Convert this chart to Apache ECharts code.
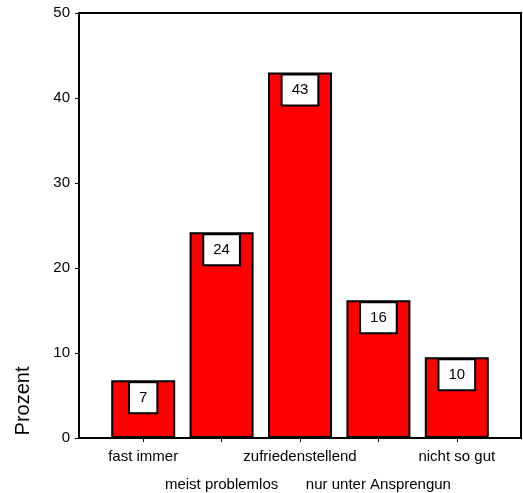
<!DOCTYPE html>
<html>
<head>
<meta charset="utf-8">
<script src="https://cdn.jsdelivr.net/npm/echarts@6/dist/echarts.min.js"></script>
<style>html,body{margin:0;padding:0;background:#fff}#c{width:523px;height:493px}</style>
</head>
<body>
<div id="c"></div>
<script>
var categories = ['fast immer', 'meist problemlos', 'zufriedenstellend', 'nur unter Ansprengun', 'nicht so gut'];
var values = [6.8, 24.2, 43.0, 16.2, 9.5];
var yTicks = [0, 10, 20, 30, 40, 50];
var yTitle = 'Prozent';

var chart = echarts.init(document.getElementById('c'));
var font = 'Liberation Sans, Arial, sans-serif';
chart.setOption({
  animation: false,
  backgroundColor: '#fff',
  grid: [
    {left: 79, top: 13, width: 442, height: 425, show: true, borderColor: '#000', borderWidth: 2, backgroundColor: 'transparent', containLabel: false, outerBoundsMode: 'none'},
    {left: 104, top: 13, width: 392, height: 425, containLabel: false, outerBoundsMode: 'none'}
  ],
  xAxis: [
    {gridIndex: 0, type: 'value', min: 0, max: 1, show: false},
    {gridIndex: 1, type: 'category', data: categories, boundaryGap: true,
     axisLine: {show: false},
     axisTick: {show: true, alignWithLabel: true, length: 4, lineStyle: {color: '#000', width: 1}},
     axisLabel: {interval: 0, margin: 5, color: '#000', fontFamily: font, fontSize: 15, lineHeight: 28,
       formatter: function (v, i) { return i % 2 ? '\n' + v : v; }}
    }
  ],
  yAxis: [
    {gridIndex: 0, type: 'value', min: yTicks[0], max: yTicks[yTicks.length - 1], interval: 10,
     axisLine: {show: true, lineStyle: {color: '#000', width: 2}},
     axisTick: {show: true, length: 4, lineStyle: {color: '#000', width: 1}},
     splitLine: {show: false},
     axisLabel: {margin: 9, color: '#000', fontFamily: font, fontSize: 15}
    },
    {gridIndex: 1, type: 'value', min: yTicks[0], max: yTicks[yTicks.length - 1], show: false}
  ],
  graphic: [{
    type: 'text', x: 23, y: 401, rotation: Math.PI / 2,
    style: {text: yTitle, fontFamily: font, fontSize: 20, fill: '#000', textAlign: 'center', textVerticalAlign: 'middle'}
  }],
  series: [{
    type: 'bar', xAxisIndex: 1, yAxisIndex: 1, data: values, barWidth: 64,
    itemStyle: {color: '#ff0000', borderColor: '#000', borderWidth: 2},
    label: {show: true, position: 'insideTop', distance: 3,
      formatter: function (p) { return Math.round(p.value); },
      color: '#000', fontFamily: font, fontSize: 15, lineHeight: 15,
      backgroundColor: '#fff', borderColor: '#000', borderWidth: 2, padding: [7, 9]}
  }]
});
</script>
</body>
</html>
